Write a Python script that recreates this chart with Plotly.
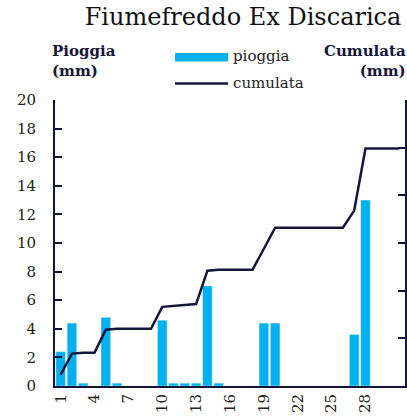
import plotly.graph_objects as go

days = list(range(1, 32))
pioggia = [2.4, 4.4, 0.2, 0.0, 4.8, 0.2, 0.0, 0.0, 0.0, 4.6,
           0.2, 0.2, 0.2, 7.0, 0.2, 0.0, 0.0, 0.0, 4.4, 4.4,
           0.0, 0.0, 0.0, 0.0, 0.0, 0.0, 3.6, 13.0, 0.0, 0.0, 0.0]
cumulata = [2.4, 6.8, 7.0, 7.0, 11.8, 12.0, 12.0, 12.0, 12.0, 16.6,
            16.8, 17.0, 17.2, 24.2, 24.4, 24.4, 24.4, 24.4, 28.8, 33.2,
            33.2, 33.2, 33.2, 33.2, 33.2, 33.2, 36.8, 49.8, 49.8, 49.8, 49.8]
tick_days = [1, 4, 7, 10, 13, 16, 19, 22, 25, 28]

FONT = "DejaVu Serif"
NAVY = "#16163a"
BLUE = "#00b0f0"
TXT = "#222222"

fig = go.Figure()
fig.add_trace(go.Bar(x=days, y=pioggia, name="pioggia", marker_color=BLUE,
                     showlegend=False))
fig.add_trace(go.Scatter(x=days, y=cumulata, name="cumulata", mode="lines",
                         line=dict(color=NAVY, width=2.5), yaxis="y2",
                         showlegend=False))

L, R, T, B = 55, 2, 100, 30
W, H = 407, 416
pw, ph = W - L - R, H - T - B

def px(x):
    return (x - L) / pw

def py(y):
    return (H - B - y) / ph

fig.update_layout(
    width=W, height=H,
    margin=dict(l=L, r=R, t=T, b=B),
    paper_bgcolor="white", plot_bgcolor="white",
    font=dict(family=FONT, color=NAVY, size=15),
    bargap=0.15,
    title=dict(text="Fiumefreddo Ex Discarica", x=243 / W, xanchor="center",
               xref="container", y=1 - 8 / H, yanchor="top", yref="container",
               font=dict(family=FONT, size=24, color="#111111")),
    xaxis=dict(type="category", tickmode="array",
               tickvals=tick_days, ticktext=[str(d) for d in tick_days],
               tickangle=-90, showline=True, linecolor=NAVY, linewidth=2,
               ticks="", showgrid=False, range=[-0.5, 30.5],
               automargin=False,
               tickfont=dict(size=15, color=TXT)),
    yaxis=dict(range=[0, 20], dtick=2, showline=True, linecolor=NAVY,
               linewidth=2, ticks="inside", ticklen=7, tickwidth=2,
               tickcolor=NAVY, showgrid=False, zeroline=False,
               ticklabelstandoff=14,
               tickfont=dict(size=15, color=TXT)),
    yaxis2=dict(range=[0, 60], dtick=10, overlaying="y", side="right",
                showline=True, linecolor=NAVY, linewidth=2, ticks="inside",
                ticklen=7, tickwidth=2, tickcolor=NAVY,
                showticklabels=False, showgrid=False, zeroline=False),
    shapes=[
        dict(type="rect", xref="paper", yref="paper",
             x0=px(175), x1=px(228), y0=py(61.5), y1=py(53),
             fillcolor=BLUE, line=dict(width=0)),
        dict(type="line", xref="paper", yref="paper",
             x0=px(175), x1=px(228), y0=py(83.5), y1=py(83.5),
             line=dict(color=NAVY, width=2.5)),
    ],
    annotations=[
        dict(text="pioggia", xref="paper", yref="paper", x=px(231), y=py(56),
             xanchor="left", yanchor="middle", showarrow=False,
             font=dict(size=15, color=TXT)),
        dict(text="cumulata", xref="paper", yref="paper", x=px(231), y=py(83),
             xanchor="left", yanchor="middle", showarrow=False,
             font=dict(size=15, color=TXT)),
        dict(text="<b>Pioggia<br>(mm)</b>", xref="paper", yref="paper",
             x=px(50), y=py(40), xanchor="left", yanchor="top", align="left",
             showarrow=False, font=dict(size=15, color=NAVY)),
        dict(text="<b>Cumulata<br>(mm)</b>", xref="paper", yref="paper",
             x=px(408), y=py(40), xanchor="right", yanchor="top", align="right",
             showarrow=False, font=dict(size=15, color=NAVY)),
    ],
)

fig.write_html("out.html", config={"displayModeBar": False},
               post_script="document.body.style.margin='0';document.body.style.overflow='hidden';")
